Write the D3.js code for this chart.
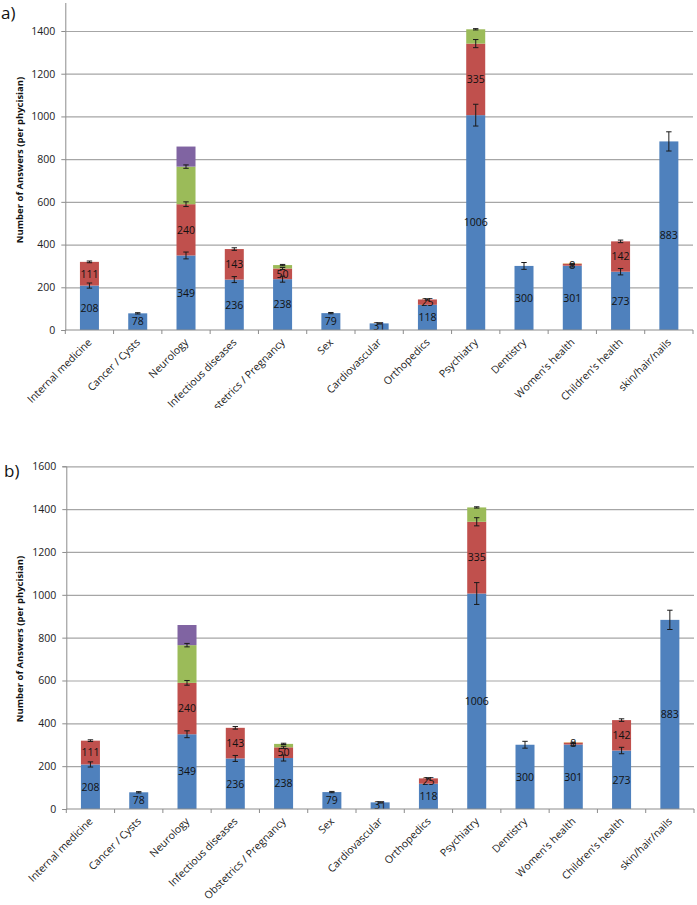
<!DOCTYPE html>
<html>
<head>
<meta charset="utf-8">
<script src="https://cdn.jsdelivr.net/npm/d3@7/dist/d3.min.js"></script>
<style>
  html, body { margin: 0; padding: 0; background: #fff; }
  svg { display: block; }
  text { font-family: "Open Sans", "DejaVu Sans", sans-serif; }
</style>
</head>
<body>
<svg id="chart" width="697" height="905"></svg>
<script>
// ---------- data ----------
const categories = ["Internal medicine", "Cancer / Cysts", "Neurology", "Infectious diseases",
  "Obstetrics / Pregnancy", "Sex", "Cardiovascular", "Orthopedics", "Psychiatry",
  "Dentistry", "Women's health", "Children's health", "skin/hair/nails"];
const blueValues   = [208, 78, 349, 236, 238, 79, 31, 118, 1006, 300, 301, 273, 883];
const redValues    = [111, 0, 240, 143, 50, 0, 0, 25, 335, 0, 8, 142, 0];
const greenValues  = [0, 0, 176, 0, 16, 0, 0, 0, 67, 0, 0, 0, 0];
const purpleValues = [0, 0, 94, 0, 0, 0, 0, 0, 0, 0, 0, 0, 0];
const orangeValues = [0, 0, 0, 0, 0, 0, 0, 0, 0, 0, 3, 0, 0];
const blueErrors   = [12, 3, 16, 14, 14, 3, 3, 0, 51, 16, 6, 15, 45];
const redErrors    = [4, 0, 11, 6, 5, 0, 0, 3, 19, 0, 3, 6, 0];
const greenErrors  = [0, 0, 8, 0, 3, 0, 0, 0, 3, 0, 0, 0, 0];
const purpleErrors = [0, 0, 0, 0, 0, 0, 0, 0, 0, 0, 0, 0, 0];
const orangeErrors = [0, 0, 0, 0, 0, 0, 0, 0, 0, 0, 0, 0, 0];
const yTicksA = [0, 200, 400, 600, 800, 1000, 1200, 1400];
const yTicksB = [0, 200, 400, 600, 800, 1000, 1200, 1400, 1600];
const yTitle = "Number of Answers (per phycisian)";

const series = [
  { values: blueValues,   errors: blueErrors,   color: "#4F81BD", label: true },
  { values: redValues,    errors: redErrors,    color: "#C0504D", label: true },
  { values: greenValues,  errors: greenErrors,  color: "#9BBB59", label: false },
  { values: purpleValues, errors: purpleErrors, color: "#8064A2", label: false },
  { values: orangeValues, errors: orangeErrors, color: "#E0A060", label: false }
];

const svg = d3.select("#chart");

function drawPanel(opt) {
  const g = svg.append("g").attr("clip-path", `url(#${opt.clipId})`);
  svg.append("clipPath").attr("id", opt.clipId)
    .append("rect").attr("x", 0).attr("y", opt.clipTop).attr("width", 697).attr("height", opt.clipBottom - opt.clipTop);

  const y = d3.scaleLinear().domain([0, 1600]).range([opt.y0, opt.y1600]);
  const x = d3.scaleBand().domain(categories).range([opt.x0, opt.x1]).paddingInner(0).paddingOuter(0);
  const barW = 19;

  // gridlines
  g.append("g").attr("transform", `translate(${opt.x0},0)`)
    .call(d3.axisLeft(y).tickValues(opt.ticks.filter(t => t > 0)).tickSize(-(opt.x1 - opt.x0)).tickFormat(""))
    .call(s => s.select(".domain").remove())
    .call(s => s.selectAll("line").attr("stroke", "#A6A6A6").attr("stroke-width", 1.2));

  // stacked bars
  const stackBase = categories.map(() => 0);
  series.forEach(sr => {
    categories.forEach((c, i) => {
      const v = sr.values[i];
      if (v <= 0) return;
      const b = stackBase[i], t = b + v;
      const cx = x(c) + x.bandwidth() / 2;
      g.append("rect")
        .attr("x", cx - barW / 2).attr("width", barW)
        .attr("y", y(t)).attr("height", y(b) - y(t))
        .attr("fill", sr.color);
      stackBase[i] = t;
    });
  });

  // labels
  const base2 = categories.map(() => 0);
  series.forEach(sr => {
    categories.forEach((c, i) => {
      const v = sr.values[i];
      if (v <= 0) return;
      const b = base2[i], t = b + v;
      base2[i] = t;
      if (!sr.label) return;
      const cx = x(c) + x.bandwidth() / 2;
      g.append("text")
        .attr("x", cx).attr("y", (y(b) + y(t)) / 2)
        .attr("dy", "0.36em")
        .attr("text-anchor", "middle")
        .attr("font-size", 10.5)
        .attr("fill", "#111")
        .text(v);
    });
  });

  // error bars
  const base3 = categories.map(() => 0);
  series.forEach(sr => {
    categories.forEach((c, i) => {
      const v = sr.values[i];
      if (v <= 0) return;
      const t = base3[i] + v;
      base3[i] = t;
      const e = sr.errors[i];
      if (!e) return;
      const cx = x(c) + x.bandwidth() / 2;
      const eg = g.append("g").attr("stroke", "#1a1a1a").attr("stroke-width", 1);
      eg.append("line").attr("x1", cx).attr("x2", cx).attr("y1", y(t - e)).attr("y2", y(t + e));
      eg.append("line").attr("x1", cx - 2.7).attr("x2", cx + 2.7).attr("y1", y(t - e)).attr("y2", y(t - e));
      eg.append("line").attr("x1", cx - 2.7).attr("x2", cx + 2.7).attr("y1", y(t + e)).attr("y2", y(t + e));
    });
  });

  // y axis
  g.append("g").attr("transform", `translate(${opt.x0},0)`)
    .call(d3.axisLeft(y).tickValues(opt.ticks).tickSize(4).tickPadding(6).tickFormat(d3.format("d")))
    .call(s => s.select(".domain").attr("stroke", "#8C8C8C"))
    .call(s => s.selectAll(".tick line").attr("stroke", "#8C8C8C"))
    .call(s => s.selectAll(".tick text").attr("font-size", 10.5).attr("fill", "#222")
      .attr("font-family", "'Open Sans', sans-serif"));

  // x axis
  const xa = g.append("g").attr("transform", `translate(0,${opt.y0})`);
  xa.append("line").attr("x1", opt.x0).attr("x2", opt.x1).attr("y1", 0).attr("y2", 0).attr("stroke", "#8C8C8C");
  categories.concat([null]).forEach((c, i) => {
    const xx = c === null ? opt.x1 : x(c);
    xa.append("line").attr("x1", xx).attr("x2", xx).attr("y1", 0).attr("y2", 4).attr("stroke", "#8C8C8C");
  });
  categories.forEach(c => {
    const cx = x(c) + x.bandwidth() / 2;
    xa.append("text")
      .attr("transform", `translate(${cx + 3},${13}) rotate(-45)`)
      .attr("text-anchor", "end")
      .attr("font-size", 10.5)
      .attr("fill", "#222")
      .text(c);
  });

  // y title
  svg.append("text")
    .attr("transform", `translate(${opt.titleX},${opt.titleY}) rotate(-90)`)
    .attr("text-anchor", "middle")
    .attr("font-size", 9.5)
    .attr("font-weight", "bold")
    .attr("fill", "#111")
    .text(yTitle);

  // panel letter
  svg.append("text")
    .attr("x", opt.letterX).attr("y", opt.letterY)
    .attr("font-size", 17)
    .attr("fill", "#111")
    .text(opt.letter);
}

drawPanel({
  clipId: "clipA", clipTop: 3, clipBottom: 408,
  y0: 330, y1600: 31 - (330 - 31) / 7,
  x0: 65.3, x1: 693, ticks: yTicksA,
  titleX: 23, titleY: 160, letter: "a)", letterX: 1, letterY: 19
});
drawPanel({
  clipId: "clipB", clipTop: 430, clipBottom: 905,
  y0: 809, y1600: 466.3,
  x0: 66.3, x1: 694, ticks: yTicksB,
  titleX: 23, titleY: 639, letter: "b)", letterX: 4, letterY: 477
});
</script>
</body>
</html>
